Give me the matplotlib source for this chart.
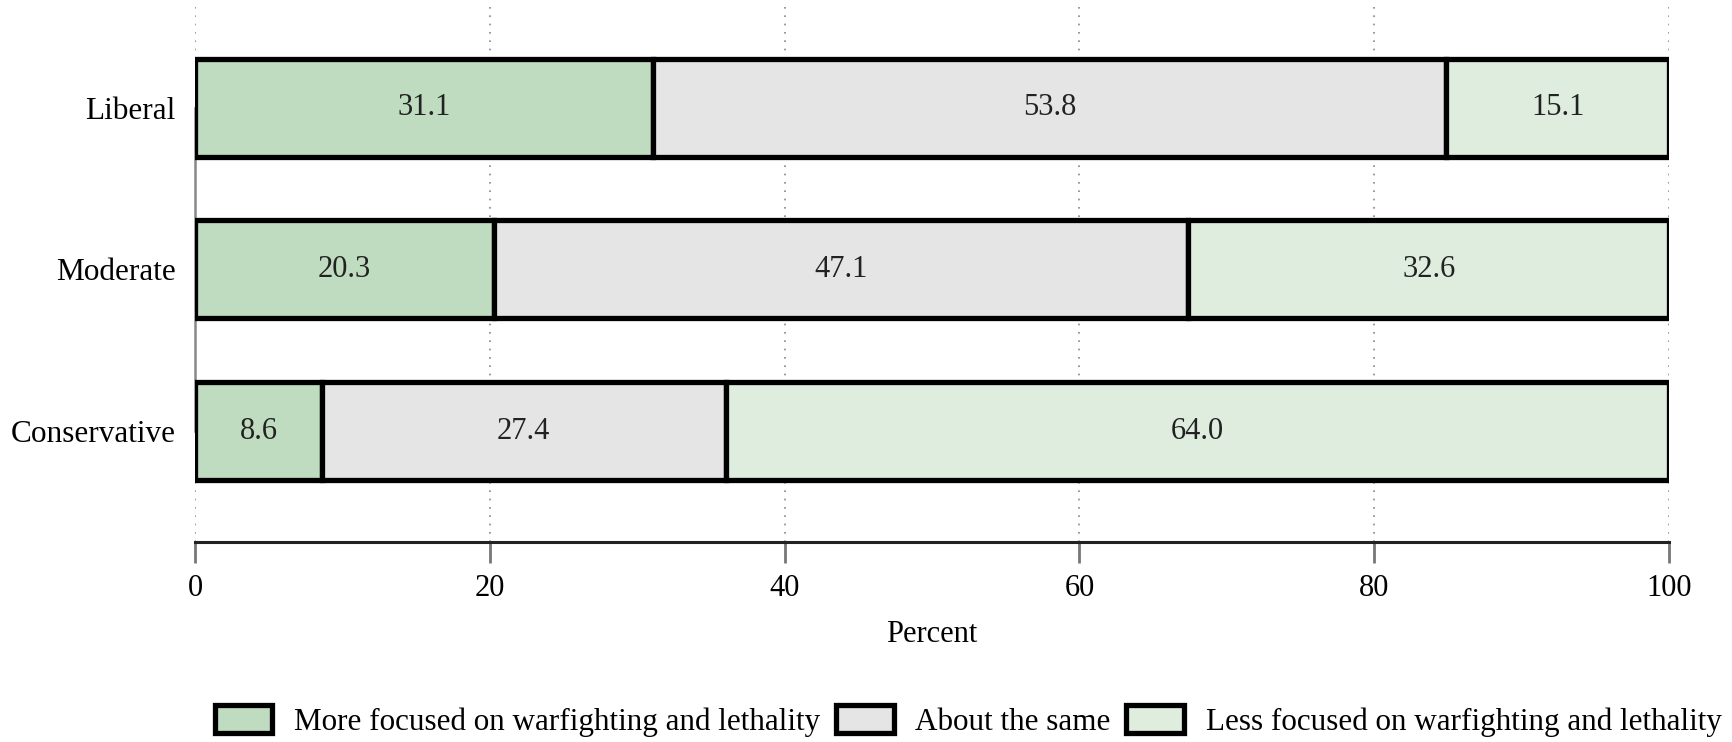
import matplotlib
matplotlib.use("Agg")
import matplotlib.pyplot as plt
import numpy as np

categories = ["Conservative", "Moderate", "Liberal"]
series_names = ["More focused on warfighting and lethality", "About the same",
                "Less focused on warfighting and lethality"]
more_focused = [8.6, 20.3, 31.1]
about_same = [27.4, 47.1, 53.8]
less_focused = [64.0, 32.6, 15.1]
xticks = [0, 20, 40, 60, 80, 100]

colors = ["#c0dcc0", "#e5e5e5", "#deedde"]

plt.rcParams['font.family'] = ['Liberation Serif', 'DejaVu Serif']

W, H = 1733, 742
fig = plt.figure(figsize=(W / 100, H / 100), dpi=100)
left, right, top, bottom = 195, 1669, 5, 542
ax = fig.add_axes([left / W, 1 - bottom / H, (right - left) / W, (bottom - top) / H])

y = np.arange(len(categories))
series = [more_focused, about_same, less_focused]
start = np.zeros(len(categories))
for vals, col, name in zip(series, colors, series_names):
    vals = np.array(vals)
    ax.barh(y, vals, left=start, height=0.606, color=col, edgecolor="black",
            linewidth=3.8, label=name, zorder=3)
    for yi, s, v in zip(y, start, vals):
        ax.text(s + v / 2, yi, f"{v:.1f}", ha="center", va="center", fontsize=22,
                color="#222222", zorder=4)
    start = start + vals

ax.set_xlim(0, 100)
ax.set_ylim(-0.686, 2.634)
ax.set_yticks(y)
ax.set_yticklabels(categories, fontsize=22.5)
ax.set_xticks(xticks)
ax.set_xticklabels([str(t) for t in xticks], fontsize=22)
ax.tick_params(axis='y', length=0, pad=14)
ax.tick_params(axis='x', length=15, width=2, color="#777777", pad=8, direction='out')
ax.grid(axis='x', linestyle=(0, (1, 4)), color="#888888", linewidth=1.2, zorder=0)
ax.grid(axis='y', visible=False)
for s in ["top", "right"]:
    ax.spines[s].set_visible(False)
ax.spines['left'].set_bounds(0, 2)
ax.spines['left'].set_color("#888888")
ax.spines['left'].set_linewidth(1.8)
ax.spines['bottom'].set_linewidth(2.2)
ax.spines['bottom'].set_color("#222222")
ax.set_xlabel("Percent", fontsize=22, labelpad=12)

handles, labels = ax.get_legend_handles_labels()
fig.legend(handles, labels, loc="center", bbox_to_anchor=(0.5587, 1 - 721 / H),
           ncol=3, frameon=False, fontsize=22.4, handlelength=1.85, handleheight=1.0,
           handletextpad=0.7, columnspacing=0.5)

fig.savefig("out.png", dpi=100)
